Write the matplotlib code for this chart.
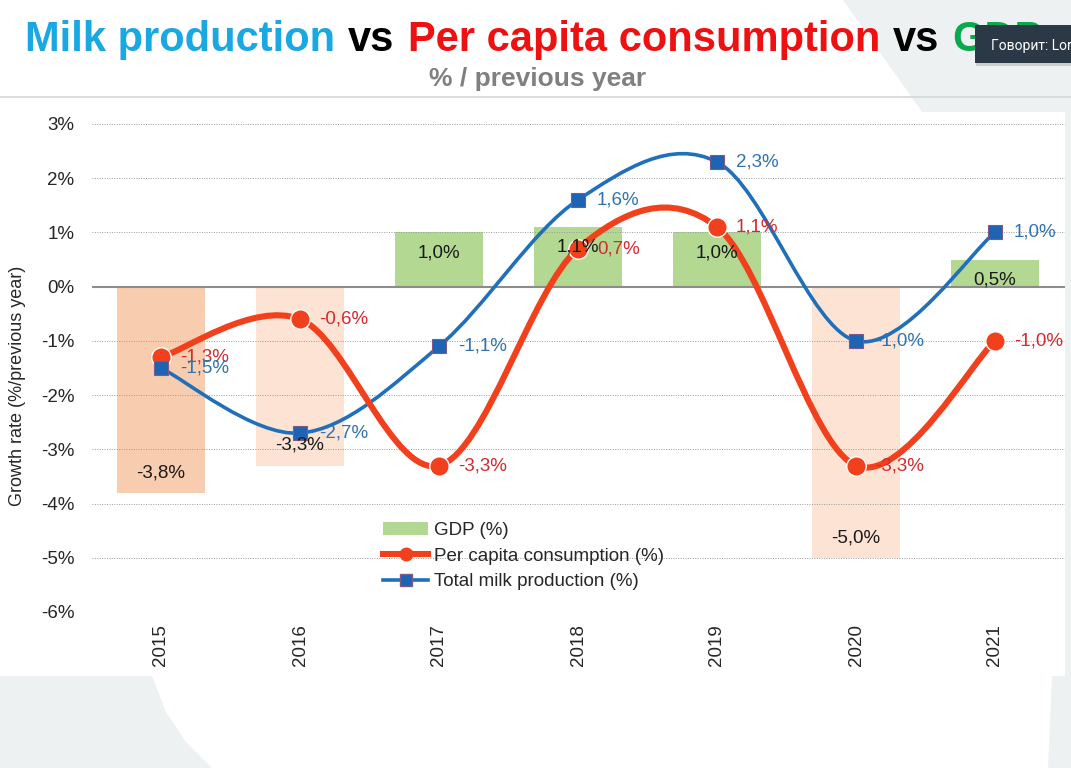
import matplotlib.pyplot as plt
from matplotlib.path import Path
from matplotlib.patches import PathPatch, Polygon, Rectangle, Patch
from matplotlib.lines import Line2D

years = ['2015', '2016', '2017', '2018', '2019', '2020', '2021']
gdp = [-3.8, -3.3, 1.0, 1.1, 1.0, -5.0, 0.5]
consumption = [-1.3, -0.6, -3.3, 0.7, 1.1, -3.3, -1.0]
production = [-1.5, -2.7, -1.1, 1.6, 2.3, -1.0, 1.0]
yticks = [3, 2, 1, 0, -1, -2, -3, -4, -5, -6]

W, H = 1071, 768
RED = '#f2401d'
BLUE = '#1f6fba'
plt.rcParams['font.family'] = ['Liberation Sans', 'DejaVu Sans']


def fp(x, y):
    # pixel coords (top-left origin) -> figure fraction
    return (x / W, 1 - y / H)


def smooth_path(xs, ys):
    # Bezier path through the points, Excel-like "smoothed line"
    pts = list(zip(xs, ys))
    verts = [pts[0]]
    codes = [Path.MOVETO]
    n = len(pts)
    for i in range(n - 1):
        p0 = pts[i - 1] if i > 0 else pts[i]
        p1 = pts[i]
        p2 = pts[i + 1]
        p3 = pts[i + 2] if i + 2 < n else pts[i + 1]
        c1 = (p1[0] + (p2[0] - p0[0]) / 6, p1[1] + (p2[1] - p0[1]) / 6)
        c2 = (p2[0] - (p3[0] - p1[0]) / 6, p2[1] - (p3[1] - p1[1]) / 6)
        verts += [c1, c2, p2]
        codes += [Path.CURVE4] * 3
    return Path(verts, codes)


fig = plt.figure(figsize=(W / 100, H / 100), dpi=100, facecolor='#edf1f1')

# slide background shapes
for poly in [
    [(0, 0), (843, 0), (922, 112), (0, 112)],
    [(0, 112), (1065, 112), (1065, 676), (0, 676)],
    [(152, 676), (166, 712), (186, 742), (212, 768), (1048, 768), (1052, 676)],
]:
    fig.patches.append(Polygon([fp(*p) for p in poly], closed=True, transform=fig.transFigure,
                               facecolor='white', edgecolor='none', zorder=-10))
fig.lines.append(Line2D([0, 1], [1 - 97 / H] * 2, transform=fig.transFigure, color='#d3d8d8',
                        lw=1.2, zorder=-9))

# title made of coloured pieces
renderer = fig.canvas.get_renderer()
x = 25
for txt, col in [('Milk production', '#1aa8e2'), ('vs', 'black'),
                 ('Per capita consumption', '#ee1111'), ('vs', 'black'), ('GDP', '#0aa84f')]:
    t = fig.text(*fp(x, 51), txt, color=col, fontsize=30, fontweight='bold', va='baseline', ha='left')
    bb = t.get_window_extent(renderer)
    x += bb.width + 13
fig.text(*fp(538, 86), '% / previous year', color='#808080', fontsize=19, fontweight='bold',
         ha='center', va='baseline')

# tooltip overlay from the screenshot
fig.patches.append(Rectangle(fp(976, 66), 100 / W, 40 / H, transform=fig.transFigure,
                             facecolor='#c8cdcd', edgecolor='none', zorder=8))
fig.patches.append(Rectangle(fp(975, 63), 100 / W, 38 / H, transform=fig.transFigure,
                             facecolor='#2b3946', edgecolor='none', zorder=9))
fig.text(*fp(991, 46), 'Говорит: Lori', color='white', fontsize=10, family=['Roboto', 'DejaVu Sans'],
         va='center', ha='left', zorder=10)

ax = fig.add_axes([91.5 / W, 1 - 612 / H, 973 / W, 488 / H])
ax.set_facecolor('none')
xs = list(range(len(years)))
ax.set_xlim(-0.5, len(years) - 0.5)
ax.set_ylim(-6, 3)

for t in yticks:
    if t == 0:
        ax.axhline(t, color='#8c8c8c', lw=1.5, zorder=2.5)
    else:
        ax.axhline(t, color='#9a9a9a', lw=0.7, ls=(0, (1, 1.5)), zorder=2.2)

bar_colors = ['#f8cdaf', '#fce3d3', '#b2d891', '#b2d891', '#b2d891', '#fce3d3', '#b2d891']
ax.bar(xs, gdp, width=0.63, color=bar_colors, zorder=2)
for i, v in enumerate(gdp):
    ax.annotate(f'{v:.1f}%'.replace('.', ','), (i, v), xytext=(0, -14.5 if v > 0 else 14.5),
                textcoords='offset points', ha='center', va='center', fontsize=13.5,
                color='#1a1a1a', zorder=7)

ax.add_patch(PathPatch(smooth_path(xs, production), fill=False, edgecolor=BLUE, lw=2.6,
                       capstyle='round', joinstyle='round', zorder=3))
ax.add_patch(PathPatch(smooth_path(xs, consumption), fill=False, edgecolor=RED, lw=4.4,
                       capstyle='round', joinstyle='round', zorder=4))
ax.plot(xs, consumption, ls='none', marker='o', ms=14, mfc=RED, mec='white', mew=1, zorder=5)
ax.plot(xs, production, ls='none', marker='s', ms=10, mfc='#1f63b5', mec='#7a5c8a', mew=0.8,
        zorder=6)

for i, v in enumerate(consumption):
    ax.annotate(f'{v:.1f}%'.replace('.', ','), (i, v), xytext=(13.5, 0), textcoords='offset points',
                ha='left', va='center', fontsize=13.5, color='#d42a2f', zorder=7)
for i, v in enumerate(production):
    ax.annotate(f'{v:.1f}%'.replace('.', ','), (i, v), xytext=(13.5, 0), textcoords='offset points',
                ha='left', va='center', fontsize=13.5, color='#2f74b0', zorder=7)

ax.set_xticks(xs)
ax.set_xticklabels(years, rotation=90, fontsize=13.5, color='#262626')
ax.set_yticks(yticks)
ax.set_yticklabels([f'{t}%' for t in yticks], fontsize=13.5, color='#262626')
ax.tick_params(axis='both', length=0)
ax.tick_params(axis='y', pad=12.5)
ax.tick_params(axis='x', pad=9)
for s in ax.spines.values():
    s.set_visible(False)

fig.text(*fp(18, 386), 'Growth rate (%/previous year)', rotation=90, fontsize=13, color='#262626',
         ha='center', va='center')

handles = [
    Patch(facecolor='#b2d891', edgecolor='none'),
    Line2D([], [], color=RED, lw=4.4, marker='o', ms=9, mfc=RED, mec=RED),
    Line2D([], [], color=BLUE, lw=2.6, marker='s', ms=8, mfc='#1f63b5', mec='#7a5c8a'),
]
labels = ['GDP (%)', 'Per capita consumption (%)', 'Total milk production (%)']
leg = ax.legend(handles, labels, loc='upper left', bbox_to_anchor=(0.2996, 0.184), frameon=False,
                fontsize=13.5, borderpad=0, borderaxespad=0, handlelength=2.4, handletextpad=0.3,
                labelspacing=0.45, handleheight=0.7)
for t in leg.get_texts():
    t.set_color('#262626')

fig.savefig('out.png', dpi=100)
